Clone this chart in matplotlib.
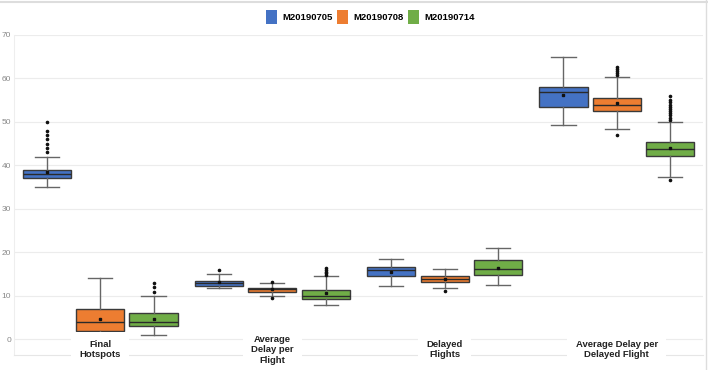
import numpy as np
import matplotlib.pyplot as plt

plt.rcParams['font.family'] = ['Liberation Sans', 'DejaVu Sans']

# categories and series
categories = ['Final\nHotspots', 'Average\nDelay per\nFlight', 'Delayed\nFlights',
              'Average Delay per\nDelayed Flight']
series = ['M20190705', 'M20190708', 'M20190714']
colors = ['#4472C4', '#ED7D31', '#70AD47']

# box statistics, [series][category]
q1 = [[37.0, 12.35, 14.6, 53.5],
      [2.0, 11.0, 13.3, 52.5],
      [3.0, 9.3, 14.7, 42.1]]
med = [[38.0, 12.9, 15.9, 56.8],
       [4.0, 11.6, 13.9, 53.9],
       [4.0, 10.0, 16.2, 43.7]]
q3 = [[39.0, 13.4, 16.6, 58.0],
      [7.0, 11.9, 14.5, 55.6],
      [6.0, 11.4, 18.2, 45.3]]
wlo = [[35.0, 11.7, 12.3, 49.4],
       [1.2, 9.9, 11.7, 48.3],
       [1.0, 7.9, 12.5, 37.3]]
whi = [[42.0, 15.0, 18.5, 65.0],
       [14.0, 13.0, 16.1, 60.4],
       [10.0, 14.5, 20.9, 50.0]]
means = [[38.4, 13.1, 15.6, 56.3],
         [4.6, 11.5, 13.9, 54.3],
         [4.75, 10.6, 16.5, 44.1]]
fliers = [[[43, 44, 45, 46, 47, 48, 50], [15.9], [], []],
          [[], [9.4, 13.3], [11.2], [60.7, 61.2, 61.7, 62.2, 62.6, 47.1]],
          [[11, 12, 13], [14.8, 15.2, 15.6, 16.0, 16.3], [],
           [50.5, 51, 51.5, 52, 52.5, 53, 53.5, 54, 54.5, 55, 55.9, 36.6]]]

fig = plt.figure(figsize=(7.08, 3.70), dpi=100)
ax = fig.add_axes([14/708, 15/370, 689/708, 320/370])

offs = [-0.31, 0.0, 0.31]
for s in range(3):
    stats = []
    for c in range(4):
        stats.append(dict(q1=q1[s][c], med=med[s][c], q3=q3[s][c],
                          whislo=wlo[s][c], whishi=whi[s][c],
                          mean=means[s][c], fliers=fliers[s][c]))
    pos = np.arange(4) + offs[s]
    ax.bxp(stats, positions=pos, widths=0.28, patch_artist=True,
           showmeans=True, manage_ticks=False,
           boxprops=dict(facecolor=colors[s], edgecolor='#3a3a3a', linewidth=1.0),
           medianprops=dict(color='#2a2a2a', linewidth=1.0),
           whiskerprops=dict(color='#666666', linewidth=1.0),
           capprops=dict(color='#666666', linewidth=1.0),
           capwidths=0.14,
           meanprops=dict(marker='s', markersize=2.0, markerfacecolor='#111111',
                          markeredgecolor='#111111'),
           flierprops=dict(marker='o', markersize=1.6, markerfacecolor='#111111',
                           markeredgecolor='#111111'))

ax.set_xlim(-0.5, 3.5)
ax.set_ylim(-3.6, 70)
ax.set_yticks(np.arange(0, 71, 10))
ax.set_xticks([])
ax.tick_params(axis='y', length=0, pad=2, labelsize=6, labelcolor='#888888')
ax.grid(axis='y', color='#ececec', linewidth=0.8)
ax.set_axisbelow(True)
for sp in ['top', 'right']:
    ax.spines[sp].set_visible(False)
ax.spines['left'].set_color('#eeeeee')
ax.spines['bottom'].set_color('#e6e6e6')

for i, lab in enumerate(categories):
    ax.text(i, -2.4, lab, ha='center', va='center', fontsize=6.8,
            fontweight='bold', color='#222222', linespacing=1.2,
            bbox=dict(facecolor='white', edgecolor='none', pad=6))

handles = [plt.Rectangle((0, 0), 1, 1, facecolor=colors[k], edgecolor='none')
           for k in range(3)]
fig.legend(handles, series, loc='center', bbox_to_anchor=(0.523, 0.953), ncol=3,
           frameon=False, prop=dict(weight='bold', size=6.8),
           handlelength=1.2, handleheight=1.9, handletextpad=0.5, columnspacing=0.5)

fig.add_artist(plt.Line2D([0, 1], [0.995, 0.995], color='#dddddd', linewidth=1.5))
fig.add_artist(plt.Line2D([0.997, 0.997], [0, 1], color='#dddddd', linewidth=1.0))

fig.savefig('out.png', dpi=100)
